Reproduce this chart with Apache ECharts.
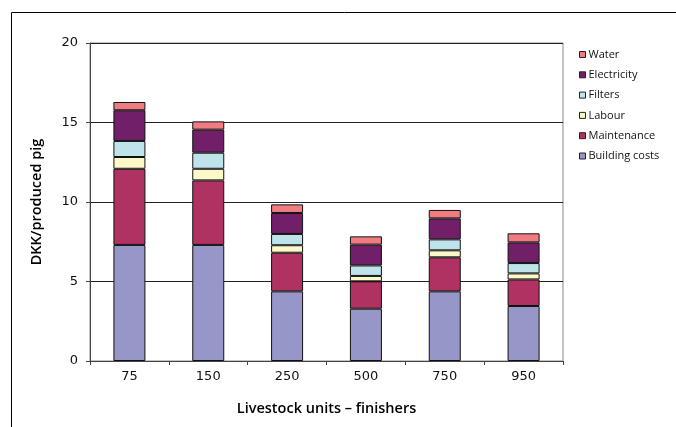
<!DOCTYPE html>
<html>
<head>
<meta charset="utf-8">
<script src="https://cdn.jsdelivr.net/npm/echarts@6/dist/echarts.min.js"></script>
<style>html,body{margin:0;padding:0;background:#fff}#c{width:676px;height:427px}</style>
</head>
<body>
<div id="c"></div>
<script>
var categories = ['75', '150', '250', '500', '750', '950'];
var buildingCosts = [7.3, 7.3, 4.38, 3.29, 4.38, 3.46];
var maintenance = [4.79, 4.06, 2.43, 1.72, 2.14, 1.67];
var labour = [0.74, 0.73, 0.47, 0.34, 0.44, 0.38];
var filters = [1.01, 1.01, 0.71, 0.66, 0.69, 0.65];
var electricity = [1.93, 1.45, 1.32, 1.31, 1.32, 1.30];
var water = [0.52, 0.52, 0.54, 0.52, 0.53, 0.57];
var yTicks = [0, 5, 10, 15, 20];

var seriesDefs = [
  ['Building costs', buildingCosts, '#9696c8'],
  ['Maintenance', maintenance, '#b03262'],
  ['Labour', labour, '#fcf8c8'],
  ['Filters', filters, '#bee3ea'],
  ['Electricity', electricity, '#701f68'],
  ['Water', water, '#f07c82']
];

var chart = echarts.init(document.getElementById('c'), null, {renderer: 'canvas'});
var tickFont = 'DejaVu Sans';
chart.setOption({
  animation: false,
  backgroundColor: '#fff',
  graphic: [{
    type: 'rect', silent: true,
    shape: {x: 11.5, y: 12.5, width: 800, height: 600},
    style: {fill: 'none', stroke: '#000', lineWidth: 1}
  }],
  grid: {left: 90, top: 43, right: 113, bottom: 66, show: true, borderColor: '#888', borderWidth: 1, backgroundColor: 'transparent'},
  legend: {
    orient: 'vertical', left: 574, top: 43,
    data: seriesDefs.map(function (s) { return s[0]; }).reverse(),
    itemWidth: 6, itemHeight: 6, itemGap: 7.3,
    icon: 'rect',
    itemStyle: {borderColor: '#222', borderWidth: 1},
    textStyle: {fontFamily: 'Open Sans', fontSize: 11, color: '#111', padding: [0, 0, 0, -2], lineHeight: 13}
  },
  xAxis: {
    type: 'category', data: categories,
    name: 'Livestock units – finishers', nameLocation: 'middle', nameGap: 40,
    nameTextStyle: {fontFamily: 'Open Sans', fontWeight: 600, fontSize: 14.5, color: '#000'},
    axisLine: {lineStyle: {color: '#444', width: 1}},
    axisTick: {show: true, length: 4, lineStyle: {color: '#444'}},
    axisLabel: {fontFamily: tickFont, fontSize: 13, color: '#111', margin: 9}
  },
  yAxis: {
    type: 'value', min: yTicks[0], max: yTicks[yTicks.length - 1], interval: 5,
    name: 'DKK/produced pig', nameLocation: 'middle', nameGap: 46,
    nameTextStyle: {fontFamily: 'Open Sans', fontWeight: 600, fontSize: 14.5, color: '#000'},
    axisLine: {show: true, lineStyle: {color: '#444', width: 1}},
    axisTick: {show: true, length: 4, lineStyle: {color: '#444'}},
    axisLabel: {fontFamily: tickFont, fontSize: 13, color: '#111', margin: 12},
    splitLine: {show: true, lineStyle: {color: '#222', width: 1}}
  },
  series: seriesDefs.map(function (s) {
    return {
      name: s[0], type: 'bar', stack: 'total', data: s[1], barWidth: 32,
      itemStyle: {color: s[2], borderColor: '#111', borderWidth: 1}
    };
  })
});
</script>
</body>
</html>
